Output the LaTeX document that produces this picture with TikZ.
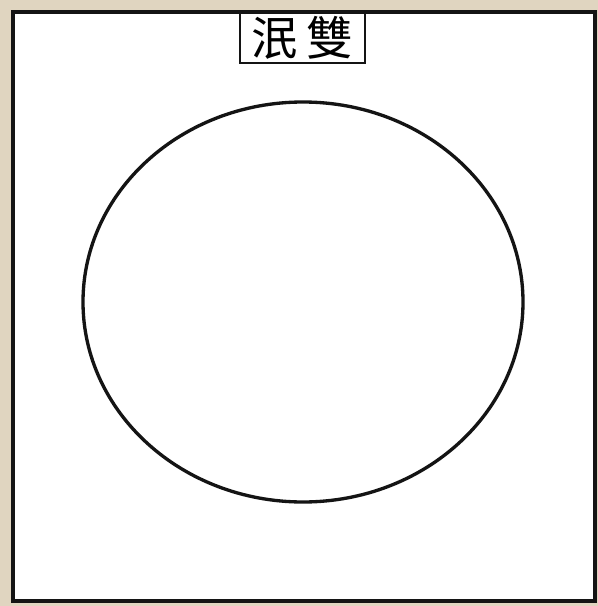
\documentclass[tikz,border=0pt]{standalone}
\usepackage{fontspec}
\newfontfamily\cjk{Noto Sans CJK TC}
\usetikzlibrary{positioning, shapes.geometric}
\definecolor{paper}{RGB}{224,213,192}
\definecolor{ink}{RGB}{20,20,20}

\begin{document}
\begin{tikzpicture}[x=0.75pt, y=-0.75pt]
  \useasboundingbox (0,0) rectangle (598,606);
  \fill[paper] (0,0) rectangle (598,606);
  \draw[fill=white, draw=ink, line width=2.8pt] (13,12) rectangle (595,601);
  \draw[draw=ink, line width=2pt] (240,12) rectangle (365,63) node[midway, font=\cjk\fontsize{35}{35}\selectfont, inner sep=0pt] (title) {泯\hspace{6pt}雙};
  \node[draw=ink, line width=2.5pt, ellipse, minimum width=330pt, minimum height=300pt, inner sep=0pt] (disk) at (303,302) {};
\end{tikzpicture}
\end{document}
